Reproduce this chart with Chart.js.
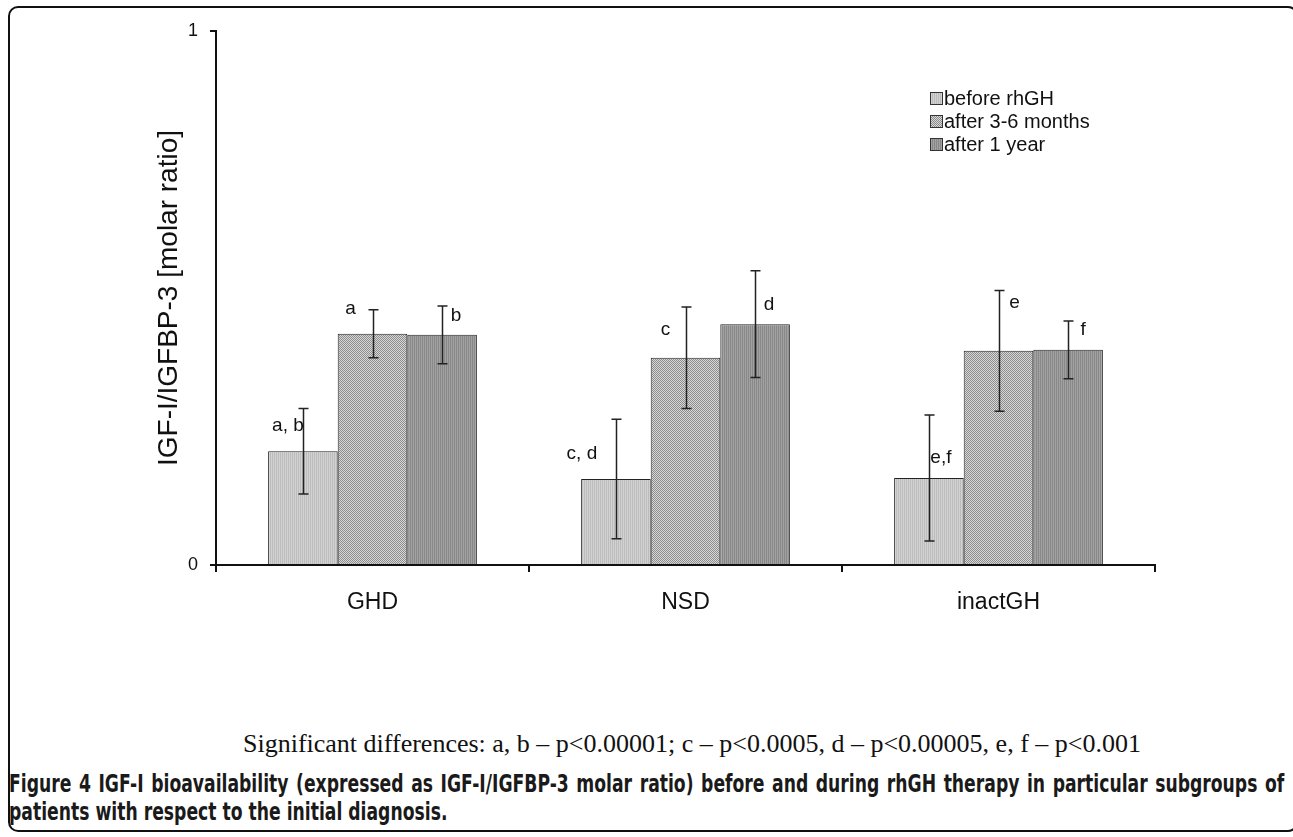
<!DOCTYPE html>
<html>
<head>
<meta charset="utf-8">
<script src="https://cdn.jsdelivr.net/npm/chart.js@4.4.1/dist/chart.umd.min.js"></script>
<style>
    html, body { margin: 0; padding: 0; background: #fff; }
    body { width: 1293px; height: 837px; position: relative; overflow: hidden; }
    #frame {
        position: absolute; left: 8px; top: 6px; width: 1290px; height: 826px;
        border: 2px solid #111; border-radius: 10px; box-sizing: border-box;
    }
    #chartWrap { position: absolute; left: 150px; top: 0; width: 1143px; height: 700px; }
    #note {
        position: absolute; left: 92px; width: 1200px; top: 729px; text-align: center;
        font-family: "Liberation Serif", serif; font-size: 26px; color: #111;
    }
    #caption {
        position: absolute; left: 9px; width: 1667px; top: 770px;
        transform: scaleX(0.765); transform-origin: 0 0;
        font-family: "DejaVu Sans Condensed", "DejaVu Sans", sans-serif; font-weight: bold;
        font-size: 25px; line-height: 28px; color: #1a1a1a; text-align: justify;
    }
</style>
</head>
<body>
<div id="frame"></div>
<div id="chartWrap"><canvas id="chart" width="1143" height="700"></canvas></div>
<div id="note">Significant differences: a, b – p&lt;0.00001; c – p&lt;0.0005, d – p&lt;0.00005, e, f – p&lt;0.001</div>
<div id="caption">Figure 4 IGF-I bioavailability (expressed as IGF-I/IGFBP-3 molar ratio) before and during rhGH therapy in particular subgroups of patients with respect to the initial diagnosis.</div>

<script>
const categories = ['GHD', 'NSD', 'inactGH'];
const seriesNames = ['before rhGH', 'after 3-6 months', 'after 1 year'];

// mean molar ratio per group
const beforeValues = [0.213, 0.161, 0.163];
const months3to6Values = [0.433, 0.388, 0.401];
const year1Values = [0.431, 0.451, 0.403];

// error bar half-widths
const beforeErrors = [0.080, 0.112, 0.118];
const months3to6Errors = [0.045, 0.095, 0.113];
const year1Errors = [0.054, 0.100, 0.054];

// significance letters above the bars, [text, label height]
const beforeMarks = [['a, b', 0.260], ['c, d', 0.208], ['e,f', 0.200]];
const months3to6Marks = [['a', 0.479], ['c', 0.440], ['e', 0.491]];
const year1Marks = [['b', 0.466], ['d', 0.487], ['f', 0.440]];

const yTicks = [0, 1];

// horizontal nudge of each letter from its bar centre (px)
const markNudge = [[-15, -34, 12], [-22, -20, 16], [14, 14, 15]];

function makePattern(kind) {
    const c = document.createElement('canvas');
    c.width = 4; c.height = 4;
    const g = c.getContext('2d');
    if (kind === 0) {
        g.fillStyle = '#d2d2d2'; g.fillRect(0, 0, 4, 4);
        g.fillStyle = '#bcbcbc'; g.fillRect(0, 0, 1, 4); g.fillRect(2, 0, 1, 4);
    } else if (kind === 1) {
        g.fillStyle = '#d8d8d8'; g.fillRect(0, 0, 4, 4);
        g.fillStyle = '#8c8c8c';
        for (let y = 0; y < 4; y++) for (let x = 0; x < 4; x++) if ((x + y) % 2 === 0) g.fillRect(x, y, 1, 1);
    } else {
        g.fillStyle = '#a2a2a2'; g.fillRect(0, 0, 4, 4);
        g.fillStyle = '#888888'; g.fillRect(0, 0, 1, 4); g.fillRect(2, 0, 1, 4);
    }
    return g.createPattern(c, 'repeat');
}

const patterns = [makePattern(0), makePattern(1), makePattern(2)];
const valueSets = [beforeValues, months3to6Values, year1Values];
const errorSets = [beforeErrors, months3to6Errors, year1Errors];
const markSets = [beforeMarks, months3to6Marks, year1Marks];

const extrasPlugin = {
    id: 'extras',
    afterDatasetsDraw(chart) {
        const ctx = chart.ctx;
        const y = chart.scales.y;
        ctx.save();
        chart.data.datasets.forEach((ds, i) => {
            const meta = chart.getDatasetMeta(i);
            meta.data.forEach((bar, j) => {
                const v = valueSets[i][j], e = errorSets[i][j];
                const top = y.getPixelForValue(v + e);
                const bot = y.getPixelForValue(v - e);
                const x = Math.round(bar.x) + 0.5;
                ctx.strokeStyle = '#222';
                ctx.lineWidth = 1.5;
                ctx.beginPath();
                ctx.moveTo(x, top); ctx.lineTo(x, bot);
                ctx.moveTo(x - 5, top); ctx.lineTo(x + 5, top);
                ctx.moveTo(x - 5, bot); ctx.lineTo(x + 5, bot);
                ctx.stroke();

                const mark = markSets[i][j];
                ctx.fillStyle = '#111';
                ctx.font = '19px "Liberation Sans", Arial, sans-serif';
                ctx.textAlign = 'center';
                ctx.textBaseline = 'middle';
                ctx.fillText(mark[0], bar.x + markNudge[i][j], y.getPixelForValue(mark[1]));
            });
        });

        // legend
        const lx = 780, ly0 = 98, step = 23;
        ctx.font = '20px "Liberation Sans", Arial, sans-serif';
        ctx.textAlign = 'left';
        ctx.textBaseline = 'middle';
        seriesNames.forEach((name, i) => {
            const cy = ly0 + i * step;
            ctx.fillStyle = patterns[i];
            ctx.fillRect(lx, cy - 6, 12, 12);
            ctx.strokeStyle = '#333';
            ctx.lineWidth = 1;
            ctx.strokeRect(lx + 0.5, cy - 5.5, 12, 12);
            ctx.fillStyle = '#111';
            ctx.fillText(name, lx + 14, cy + 1);
        });
        ctx.restore();
    }
};

new Chart(document.getElementById('chart'), {
    type: 'bar',
    data: {
        labels: categories,
        datasets: seriesNames.map((name, i) => ({
            label: name,
            data: valueSets[i],
            backgroundColor: patterns[i],
            borderColor: '#222',
            borderWidth: 1,
            borderSkipped: 'bottom',
            categoryPercentage: 0.667,
            barPercentage: 1.0
        }))
    },
    options: {
        responsive: false,
        animation: false,
        devicePixelRatio: 1,
        layout: { padding: { left: 0, top: 31, right: 138, bottom: 0 } },
        plugins: {
            legend: { display: false },
            tooltip: { enabled: false }
        },
        scales: {
            x: {
                offset: true,
                grid: { offset: true, drawOnChartArea: false, drawTicks: true, tickLength: 7, color: '#111', lineWidth: 2 },
                border: { color: '#111', width: 2 },
                ticks: { color: '#111', padding: 17, font: { family: '"Liberation Sans", Arial, sans-serif', size: 23 } },
                afterFit: s => { s.height = 135; }
            },
            y: {
                min: 0,
                max: 1,
                afterBuildTicks: s => { s.ticks = yTicks.map(v => ({ value: v })); },
                grid: { drawOnChartArea: false, drawTicks: true, tickLength: 6, color: '#111', lineWidth: 2 },
                border: { color: '#111', width: 2 },
                ticks: { color: '#111', padding: 12, font: { family: '"Liberation Sans", Arial, sans-serif', size: 18 } },
                title: {
                    display: true,
                    text: 'IGF-I/IGFBP-3 [molar ratio]',
                    color: '#111',
                    font: { family: '"Liberation Sans", Arial, sans-serif', size: 28 },
                    padding: { top: 2, bottom: 2 }
                },
                afterFit: s => { s.width = 66; }
            }
        }
    },
    plugins: [extrasPlugin]
});
</script>
</body>
</html>
